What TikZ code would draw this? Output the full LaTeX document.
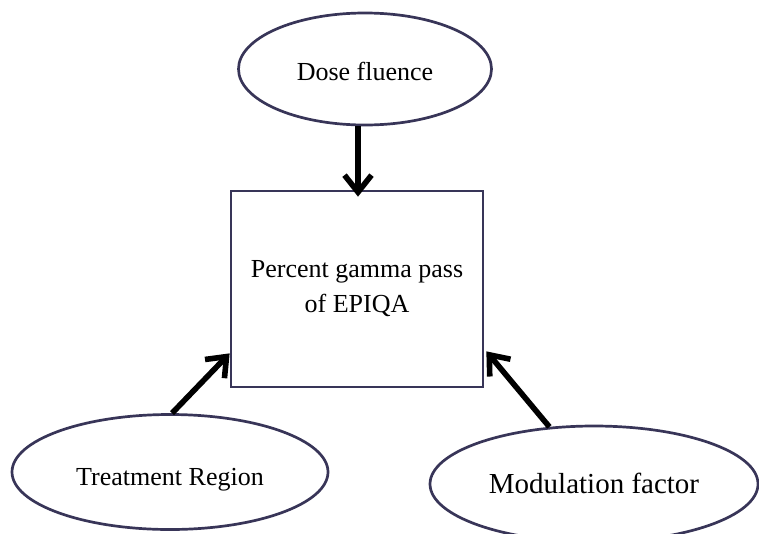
\documentclass[tikz,border=0pt]{standalone}
\usepackage{fontspec}
\setmainfont{Liberation Serif}
\usetikzlibrary{shapes.geometric,arrows.meta}
\definecolor{edge}{RGB}{56,53,88}
\begin{document}
\begin{tikzpicture}[x=1pt,y=-1pt,
  factor/.style={ellipse,draw=edge,line width=2.7pt,inner sep=0pt,
    text depth=0pt,font=\fontsize{26}{30}\selectfont},
  outcome/.style={rectangle,draw=edge,line width=2.7pt,inner sep=0pt,
    align=center,font=\fontsize{26}{35}\selectfont},
  link/.style={line width=5.6pt,-{Straight Barb[length=17pt,width=27pt,line width=5.6pt]}}]
\useasboundingbox (0,0) rectangle (759,533);
% influencing factors
\node[factor,text height=23pt,minimum width=253pt,minimum height=112pt] (dose) at (365,69) {Dose fluence};
\node[factor,text height=27pt,minimum width=316pt,minimum height=115pt] (treat) at (170,472) {Treatment Region};
\node[factor,text height=19pt,minimum width=328pt,minimum height=116pt,font=\fontsize{29}{32}\selectfont] (mod) at (594,484) {Modulation factor};
% outcome
\node[outcome,minimum width=252pt,minimum height=196pt] (pct) at (357,289) {Percent gamma pass\\of EPIQA};
% influences
\draw[link] (dose.south -| pct.north) ++(1pt,0) -- ([xshift=1pt,yshift=-7pt]pct.north);
\draw[link] (treat.88) -- ([yshift=35pt]pct.south west);
\draw[link] (mod.128) -- ([xshift=2pt,yshift=37pt]pct.south east);
\end{tikzpicture}
\end{document}
